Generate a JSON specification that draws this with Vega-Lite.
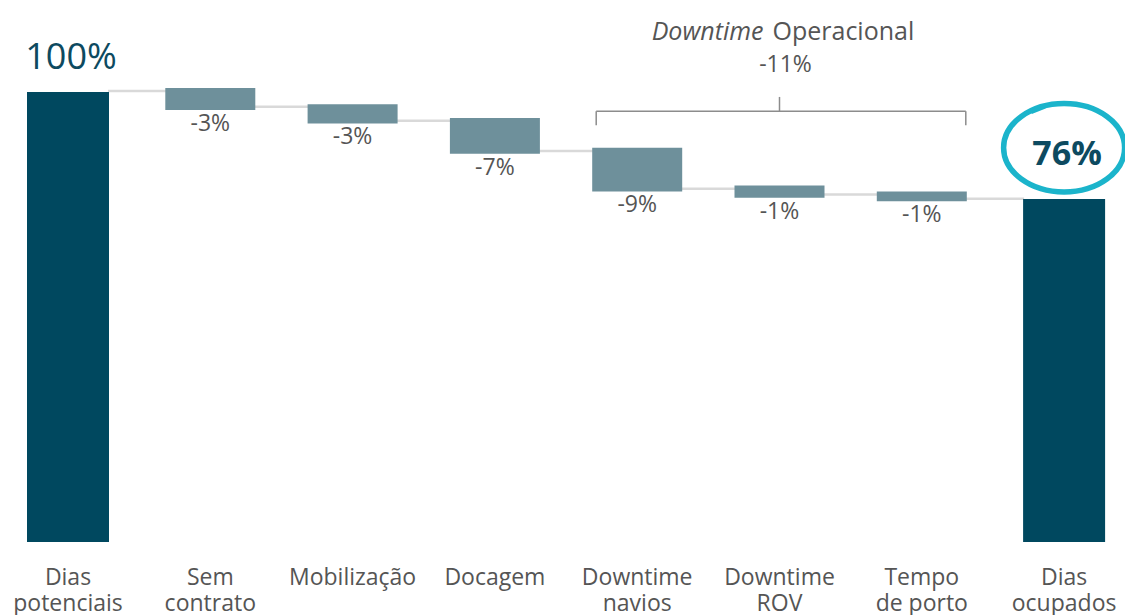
{
  "$schema": "https://vega.github.io/schema/vega-lite/v6.json",
  "width": 1125,
  "height": 542,
  "autosize": {"type": "none"},
  "padding": {"left": 0, "top": 0, "right": 0, "bottom": 73},
  "background": "white",
  "config": {"view": {"stroke": null}, "font": "Open Sans"},
  "datasets": {
    "bars": [
      {"cat": "Dias|potenciais", "start": 0, "end": 100, "kind": "total", "label": "100%"},
      {"cat": "Sem|contrato", "start": 100.9, "end": 96.0, "kind": "step", "label": "-3%"},
      {"cat": "Mobilização", "start": 97.3, "end": 93.0, "kind": "step", "label": "-3%"},
      {"cat": "Docagem", "start": 94.2, "end": 86.3, "kind": "step", "label": "-7%"},
      {"cat": "Downtime|navios", "start": 87.6, "end": 77.9, "kind": "step", "label": "-9%"},
      {"cat": "Downtime|ROV", "start": 79.2, "end": 76.5, "kind": "step", "label": "-1%"},
      {"cat": "Tempo|de porto", "start": 77.9, "end": 75.7, "kind": "step", "label": "-1%"},
      {"cat": "Dias|ocupados", "start": 0, "end": 76.2, "kind": "total", "label": "76%"}
    ],
    "conn": [
      {"from": "Dias|potenciais", "to": "Sem|contrato", "level": 100.2},
      {"from": "Sem|contrato", "to": "Mobilização", "level": 96.7},
      {"from": "Mobilização", "to": "Docagem", "level": 93.6},
      {"from": "Docagem", "to": "Downtime|navios", "level": 86.9},
      {"from": "Downtime|navios", "to": "Downtime|ROV", "level": 78.5},
      {"from": "Downtime|ROV", "to": "Tempo|de porto", "level": 77.2},
      {"from": "Tempo|de porto", "to": "Dias|ocupados", "level": 76.3}
    ]
  },
  "layer": [
    {
      "data": {"name": "conn"},
      "mark": {"type": "rule", "color": "#d9d9d9", "strokeWidth": 2.5, "xOffset": 40, "x2Offset": -40},
      "encoding": {
        "x": {
          "field": "from", "type": "nominal", "sort": null,
          "scale": {
            "domain": ["Dias|potenciais", "Sem|contrato", "Mobilização", "Docagem", "Downtime|navios", "Downtime|ROV", "Tempo|de porto", "Dias|ocupados"],
            "range": [-3.15, 1135.25], "paddingInner": 0, "paddingOuter": 0
          },
          "axis": {
            "title": null, "domain": false, "ticks": false, "grid": false,
            "labelAngle": 0, "labelExpr": "split(datum.value, '|')",
            "labelFont": "Open Sans", "labelFontSize": 23, "labelColor": "#555555",
            "labelLineHeight": 26, "labelPadding": 24, "labelBaseline": "top", "labelAlign": "center"
          }
        },
        "x2": {"field": "to"},
        "y": {"field": "level", "type": "quantitative", "scale": {"domain": [0, 120.44], "nice": false, "zero": true}, "axis": null}
      }
    },
    {
      "data": {"name": "bars"},
      "transform": [{"filter": "datum.kind == 'step'"}],
      "mark": {"type": "bar", "width": 90, "color": "#6e909b"},
      "encoding": {
        "x": {"field": "cat", "type": "nominal", "sort": null},
        "y": {"field": "start", "type": "quantitative"},
        "y2": {"field": "end"}
      }
    },
    {
      "data": {"name": "bars"},
      "transform": [{"filter": "datum.kind == 'total'"}],
      "mark": {"type": "bar", "width": 82, "color": "#00485f"},
      "encoding": {
        "x": {"field": "cat", "type": "nominal", "sort": null},
        "y": {"field": "start", "type": "quantitative"},
        "y2": {"field": "end"}
      }
    },
    {
      "data": {"name": "bars"},
      "transform": [{"filter": "datum.kind == 'step'"}],
      "mark": {"type": "text", "baseline": "top", "dy": 3, "fontSize": 23, "color": "#555555", "font": "Open Sans"},
      "encoding": {
        "x": {"field": "cat", "type": "nominal", "sort": null},
        "y": {"field": "end", "type": "quantitative"},
        "text": {"field": "label"}
      }
    },
    {
      "data": {"name": "bars"},
      "transform": [{"filter": "datum.cat == 'Dias|potenciais'"}],
      "mark": {"type": "text", "baseline": "alphabetic", "dy": -23, "dx": 3, "fontSize": 36, "color": "#0d4a60", "font": "Open Sans"},
      "encoding": {
        "x": {"field": "cat", "type": "nominal", "sort": null},
        "y": {"field": "end", "type": "quantitative"},
        "text": {"field": "label"}
      }
    },
    {
      "data": {"name": "bars"},
      "transform": [{"filter": "datum.cat == 'Dias|ocupados'"}],
      "mark": {"type": "text", "baseline": "alphabetic", "dy": -34, "dx": 3, "fontSize": 34, "fontWeight": "bold", "color": "#0d4a60", "font": "Open Sans"},
      "encoding": {
        "x": {"field": "cat", "type": "nominal", "sort": null},
        "y": {"field": "end", "type": "quantitative"},
        "text": {"field": "label"}
      }
    },
    {
      "data": {"values": [{"cat": "Dias|ocupados", "level": 87.6}]},
      "mark": {
        "type": "point", "filled": false, "stroke": "#1bb4cb", "strokeWidth": 5.5, "opacity": 1, "size": 14641,
        "shape": "M -1 0 A 1 0.73 0 1 1 1 0 A 1 0.73 0 1 1 -1 0 Z M -0.55 -0.6 L -0.3 -0.7"
      },
      "encoding": {
        "x": {"field": "cat", "type": "nominal", "sort": null},
        "y": {"field": "level", "type": "quantitative"}
      }
    },
    {
      "data": {"values": [{"a": "Downtime|navios", "b": "Tempo|de porto", "level": 95.7}]},
      "mark": {"type": "rule", "color": "#8c8c8c", "strokeWidth": 1.5, "xOffset": -41, "x2Offset": 44},
      "encoding": {
        "x": {"field": "a", "type": "nominal", "sort": null},
        "x2": {"field": "b"},
        "y": {"field": "level", "type": "quantitative"}
      }
    },
    {
      "data": {"values": [{"a": "Downtime|navios", "top": 95.7, "bottom": 92.6}]},
      "mark": {"type": "rule", "color": "#8c8c8c", "strokeWidth": 1.5, "xOffset": -41},
      "encoding": {
        "x": {"field": "a", "type": "nominal", "sort": null},
        "y": {"field": "top", "type": "quantitative"},
        "y2": {"field": "bottom"}
      }
    },
    {
      "data": {"values": [{"a": "Tempo|de porto", "top": 95.7, "bottom": 92.6}]},
      "mark": {"type": "rule", "color": "#8c8c8c", "strokeWidth": 1.5, "xOffset": 44},
      "encoding": {
        "x": {"field": "a", "type": "nominal", "sort": null},
        "y": {"field": "top", "type": "quantitative"},
        "y2": {"field": "bottom"}
      }
    },
    {
      "data": {"values": [{"a": "Downtime|ROV", "top": 98.9, "bottom": 95.7}]},
      "mark": {"type": "rule", "color": "#8c8c8c", "strokeWidth": 1.5},
      "encoding": {
        "x": {"field": "a", "type": "nominal", "sort": null},
        "y": {"field": "top", "type": "quantitative"},
        "y2": {"field": "bottom"}
      }
    },
    {
      "data": {"values": [{"a": "Downtime|ROV", "level": 111.6, "t": "Downtime"}]},
      "mark": {"type": "text", "align": "right", "baseline": "alphabetic", "dx": -16, "fontSize": 25, "fontStyle": "italic", "color": "#555555", "font": "Open Sans"},
      "encoding": {
        "x": {"field": "a", "type": "nominal", "sort": null},
        "y": {"field": "level", "type": "quantitative"},
        "text": {"field": "t"}
      }
    },
    {
      "data": {"values": [{"a": "Downtime|ROV", "level": 111.6, "t": "Operacional"}]},
      "mark": {"type": "text", "align": "left", "baseline": "alphabetic", "dx": -7, "fontSize": 25, "color": "#555555", "font": "Open Sans"},
      "encoding": {
        "x": {"field": "a", "type": "nominal", "sort": null},
        "y": {"field": "level", "type": "quantitative"},
        "text": {"field": "t"}
      }
    },
    {
      "data": {"values": [{"a": "Downtime|ROV", "level": 104.4, "t": "-11%"}]},
      "mark": {"type": "text", "align": "center", "baseline": "alphabetic", "dx": 6, "fontSize": 23, "color": "#555555", "font": "Open Sans"},
      "encoding": {
        "x": {"field": "a", "type": "nominal", "sort": null},
        "y": {"field": "level", "type": "quantitative"},
        "text": {"field": "t"}
      }
    }
  ]
}
